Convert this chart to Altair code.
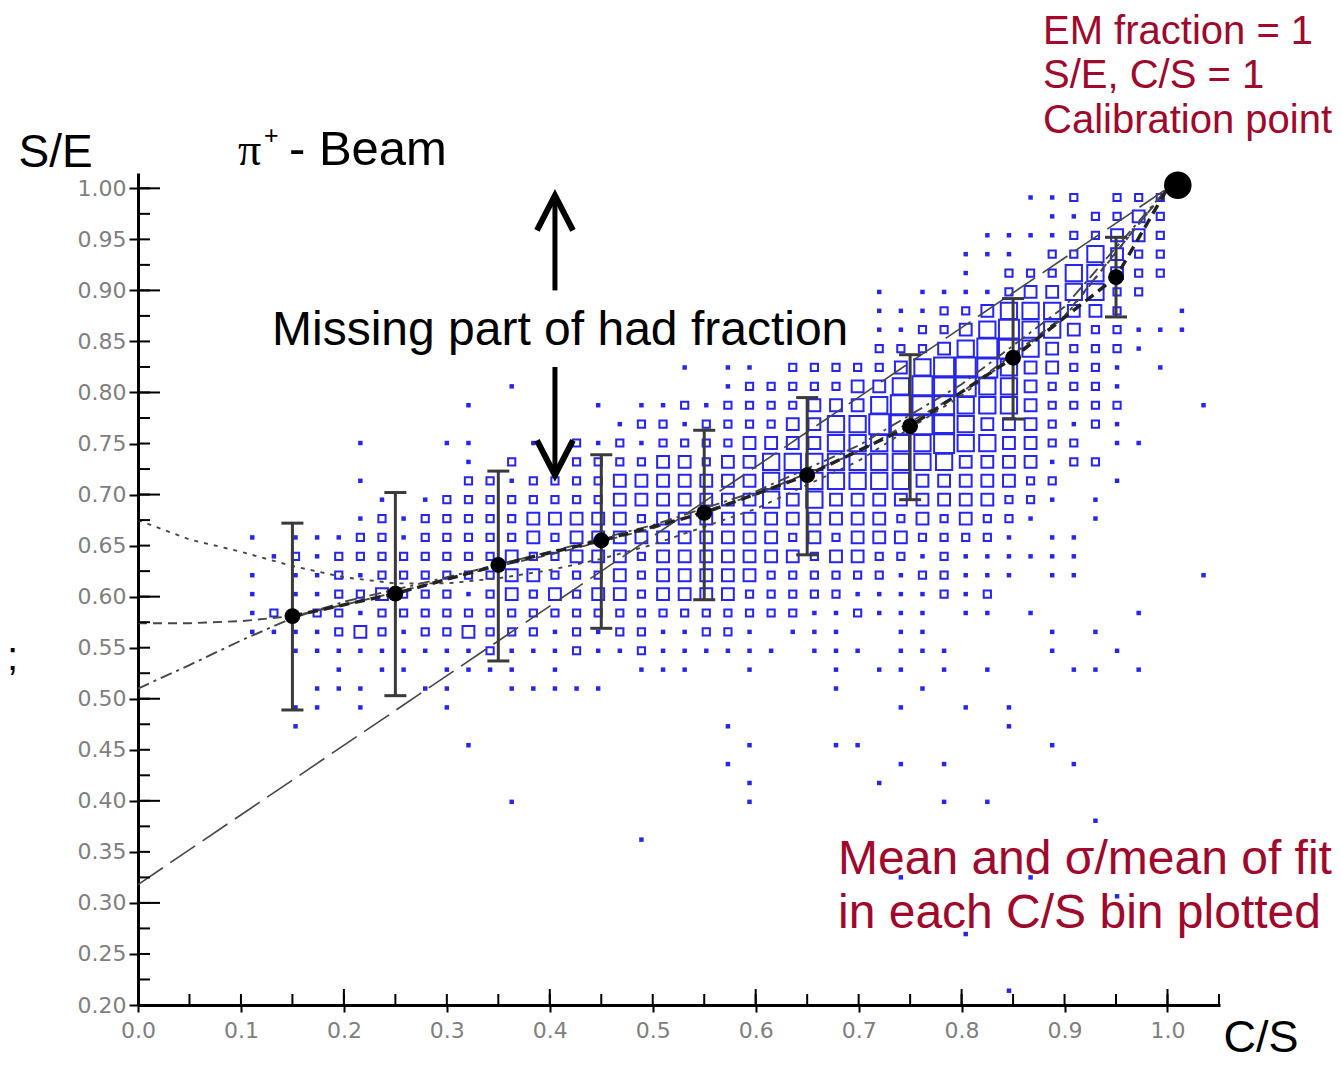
import altair as alt
import pandas as pd

# ---------------- values ----------------
# 2-D histogram (S/E vs C/S): bin centres of the grid and box-size level of each cell
X_BIN0, X_BINW = 0.006, 0.021      # centre of first C/S column, column width
Y_BIN0, Y_BINH = 0.991, 0.0185     # centre of top S/E row, row height

# rows 0..25 from the top: (first column index, size level of consecutive columns)
HIST_ROWS = [
    (40, "01120" "22200"),
    (40, "00112" "23200"),
    (35, "00001" "11122" "33200"),
    (35, "00011" "10224" "32200"),
    (35, "00010" "22244" "32200"),
    (30, "00001" "01111" "23344" "22000"),
    (30, "00001" "11223" "44433" "20010"),
    (30, "00001" "12234" "54432" "21110"),
    (30, "00002" "22345" "54322" "21000"),
    (25, "10110" "22222" "34555" "43322" "10100"),
    (15, "00100" "00000" "00122" "22233" "45554" "43222" "10000"),
    (15, "10000" "01011" "21222" "23334" "55544" "43222" "20001"),
    (20, "00122" "12222" "33445" "55543" "33212" "10000"),
    (10, "10001" "10010" "21212" "22233" "33444" "44544" "33220" "11000"),
    (15, "10200" "22223" "32334" "44444" "44433" "33122"),
    (10, "10000" "22122" "22333" "33334" "44444" "43333" "32200" "10000"),
    (10, "01012" "22222" "22333" "33334" "34333" "33333" "22101"),
    (10, "12122" "22233" "33323" "33333" "33333" "23232" "21001"),
    (5, "10111" "22122" "22232" "33333" "33333" "23233" "32222" "10110"),
    (5, "01212" "22222" "22322" "33323" "33333" "32332" "21211" "11110"),
    (5, "10112" "12222" "22332" "22323" "33332" "22222" "12211" "10110" "00001"),
    (5, "10112" "23222" "12323" "23323" "33322" "22211" "11212"),
    (5, "12022" "12222" "22222" "22222" "22222" "21121" "11011" "01000" "01000"),
    (5, "11112" "32122" "32221" "21221" "12210" "11100" "11000" "00101"),
    (5, "00111" "11111" "12111" "21121" "11111" "01110" "11100" "00100" "10000"),
    (5, "00001" "01101" "11101" "00011" "10010" "00101" "10101" "00011" "01000"),
]
# sparse single-entry cells in the lower rows: row index -> column indices
STRAY_CELLS = {
    26: [8, 9, 10, 13, 14, 17, 18, 19, 20, 21, 32, 36],
    27: [7, 8, 10, 14, 35, 38, 40],
    28: [7, 27, 40],
    29: [15, 28, 32, 33, 42],
    30: [27, 35, 37, 43],
    31: [28, 34],
    32: [17, 28, 37, 39],
    33: [44],
    34: [23],
    36: [35, 41],
    37: [45],
    39: [38],
    42: [40],
}

# fitted mean and sigma band in each C/S bin
BIN_X = [0.15, 0.25, 0.35, 0.45, 0.55, 0.65, 0.75, 0.85, 0.95]
MEAN = [0.581, 0.603, 0.631, 0.655, 0.682, 0.719, 0.767, 0.834, 0.913]
HIGH = [0.672, 0.702, 0.723, 0.739, 0.763, 0.795, 0.837, 0.892, 0.952]
LOW = [0.489, 0.503, 0.537, 0.569, 0.597, 0.641, 0.695, 0.774, 0.874]

# fit curves
DOT_X = [0, .05, .1, .15, .2, .25, .3, .35, .4, .45, .5, .6, .7, .8, .9, 1.0]
DOT_Y = [.675, .656, .644, .630, .619, .613, .613, .618, .626, .637, .651, .686, .733, .797, .874, 1.0]
DASH_X = [0, .05, .1, .15, .2, .25, .3, .35, .4, .5, .6, .7, .8, .9, 1.0]
DASH_Y = [.574, .574, .576, .581, .592, .604, .617, .630, .641, .667, .700, .742, .800, .875, 1.0]
DASHDOT_X = [0, .05, .1, .15, .2, .25, .3, .4, .5, .6, .7, .8, .9, 1.0]
DASHDOT_Y = [.510, .533, .557, .579, .595, .607, .619, .644, .670, .703, .748, .808, .884, 1.0]
LONG_X = [0.0, 1.0]
LONG_Y = [0.318, 1.0]
MEANLINE_X = BIN_X + [1.0]
MEANLINE_Y = MEAN + [1.0]

CALIB_X = [1.01]
CALIB_Y = [1.003]

ARROW_X = 0.405
ARROW_UP = (0.900, 0.993)
ARROW_DOWN = (0.825, 0.719)

X_LABELS = [0.0, 0.1, 0.2, 0.3, 0.4, 0.5, 0.6, 0.7, 0.8, 0.9, 1.0]
Y_LABELS = [0.20, 0.25, 0.30, 0.35, 0.40, 0.45, 0.50, 0.55, 0.60, 0.65,
            0.70, 0.75, 0.80, 0.85, 0.90, 0.95, 1.00]
Y_MINOR = [round(0.2 + 0.025 * i, 3) for i in range(33)]
Y_MAJOR = [0.2, 0.3, 0.4, 0.5, 0.6, 0.7, 0.8, 0.9, 1.0]
X_MINOR = [round(0.05 * i, 2) for i in range(22)]
X_MAJOR = [0.0, 0.2, 0.4, 0.6, 0.8, 1.0]

# box area (px^2) drawn for each level (style)
BOX_AREA = {1: 20, 2: 52, 3: 140, 4: 265, 5: 400}

# ---------------- build tables ----------------
cells = []
for j, (start, run) in enumerate(HIST_ROWS):
    for i, ch in enumerate(run):
        lv = int(ch)
        if lv:
            cells.append({"x": X_BIN0 + X_BINW * (start + i), "y": Y_BIN0 - Y_BINH * j, "level": lv})
for j, ks in STRAY_CELLS.items():
    for k in ks:
        cells.append({"x": X_BIN0 + X_BINW * k, "y": Y_BIN0 - Y_BINH * j, "level": 1})
cells = pd.DataFrame(cells)
cells["area"] = cells["level"].map(BOX_AREA)
boxes = cells[cells.level >= 2]
dots = cells[cells.level == 1]

err = pd.DataFrame({"x": BIN_X, "m": MEAN, "hi": HIGH, "lo": LOW})

W, H = 1082, 832
BLUE = "#2626f0"
GREY = "#3a3a3a"
RED = "#a0082c"

XS = alt.Scale(domain=[0, 1.051], nice=False, zero=False)
YS = alt.Scale(domain=[0.2, 1.015], nice=False, zero=False)
XAX = alt.Axis(values=X_LABELS, format=".1f", title="C/S", grid=False,
               domainColor="black", domainWidth=3, tickColor="black", tickWidth=2,
               tickSize=7, labelFont="DejaVu Sans", labelFontSize=22, labelColor="#7f7f7f",
               labelPadding=8, labelFlush=False,
               titleFont="Liberation Sans", titleFontSize=45, titleFontWeight="normal",
               titleColor="black", titleAlign="left", titleBaseline="alphabetic",
               titleX=1085, titleY=46)
YAX = alt.Axis(values=Y_LABELS, format=".2f", title="S/E", grid=False,
               domainColor="black", domainWidth=3, tickColor="black", tickWidth=2,
               tickSize=9, labelFont="DejaVu Sans", labelFontSize=22, labelColor="#7f7f7f",
               labelPadding=3, labelFlush=False,
               titleFont="Liberation Sans", titleFontSize=46, titleFontWeight="normal",
               titleColor="black", titleAngle=0, titleAlign="left", titleBaseline="alphabetic",
               titleX=-120, titleY=-7)


def X(f):
    return alt.X(f"{f}:Q", scale=XS, axis=XAX)


def Y(f):
    return alt.Y(f"{f}:Q", scale=YS, axis=YAX)


def line(xs, ys, dash, width=1.9, color="#464646"):
    return alt.Chart(pd.DataFrame({"x": xs, "y": ys})).mark_line(
        color=color, strokeWidth=width, strokeDash=dash).encode(x=X("x"), y=Y("y"))


ONE = pd.DataFrame({"o": [0]})


def label(text, px, py, size, color="black", font="Liberation Sans"):
    return alt.Chart(ONE).mark_text(text=text, font=font, fontSize=size, color=color,
                                    align="left", baseline="alphabetic").encode(
        x=alt.value(px), y=alt.value(py))


layers = []
layers.append(alt.Chart(boxes).mark_point(shape="square", filled=False, strokeWidth=2,
                                          color=BLUE, opacity=1).encode(
    x=X("x"), y=Y("y"), size=alt.Size("area:Q", scale=None, legend=None)))
layers.append(alt.Chart(dots).mark_point(shape="square", filled=True,
                                         color=BLUE, opacity=1).encode(
    x=X("x"), y=Y("y"), size=alt.Size("area:Q", scale=None, legend=None)))

layers.append(line(LONG_X, LONG_Y, [30, 9], width=1.6))
layers.append(line(DOT_X, DOT_Y, [4, 6]))
layers.append(line(DASH_X, DASH_Y, [9, 6]))
layers.append(line(DASHDOT_X, DASHDOT_Y, [12, 5, 3, 5]))
layers.append(line(MEANLINE_X, MEANLINE_Y, [10, 6], width=3.4, color="#222222"))

layers.append(alt.Chart(err).mark_rule(color=GREY, strokeWidth=3).encode(
    x=X("x"), y=Y("lo"), y2=alt.Y2("hi")))
layers.append(alt.Chart(err).mark_tick(orient="horizontal", thickness=3, size=22, color=GREY,
                                       opacity=1).encode(x=X("x"), y=Y("hi")))
layers.append(alt.Chart(err).mark_tick(orient="horizontal", thickness=3, size=22, color=GREY,
                                       opacity=1).encode(x=X("x"), y=Y("lo")))
layers.append(alt.Chart(err).mark_point(shape="circle", filled=True, size=250, color="black",
                                        opacity=1).encode(x=X("x"), y=Y("m")))

layers.append(alt.Chart(pd.DataFrame({"x": CALIB_X, "y": CALIB_Y})).mark_point(
    shape="circle", filled=True, size=760, color="black", opacity=1).encode(x=X("x"), y=Y("y")))

# inner ticks of the axes
layers.append(alt.Chart(pd.DataFrame({"v": Y_MINOR})).mark_rule(color="black", strokeWidth=2).encode(
    y=Y("v"), x=alt.value(0), x2=alt.value(12)))
layers.append(alt.Chart(pd.DataFrame({"v": Y_MAJOR})).mark_rule(color="black", strokeWidth=2).encode(
    y=Y("v"), x=alt.value(0), x2=alt.value(22)))
layers.append(alt.Chart(pd.DataFrame({"v": X_MINOR})).mark_rule(color="black", strokeWidth=2).encode(
    x=X("v"), y=alt.value(H), y2=alt.value(H - 11)))
layers.append(alt.Chart(pd.DataFrame({"v": X_MAJOR})).mark_rule(color="black", strokeWidth=2).encode(
    x=X("v"), y=alt.value(H), y2=alt.value(H - 16)))

# arrows
arrows = pd.DataFrame({"x": [ARROW_X, ARROW_X], "a": [ARROW_UP[0], ARROW_DOWN[0]],
                       "b": [ARROW_UP[1], ARROW_DOWN[1]]})
layers.append(alt.Chart(arrows).mark_rule(color="black", strokeWidth=5).encode(
    x=X("x"), y=Y("a"), y2=alt.Y2("b")))
layers.append(alt.Chart(pd.DataFrame({"x": [ARROW_X], "y": [ARROW_UP[1]]})).mark_point(
    shape="M-1,1.94L0,0L1,1.94", filled=False, size=1296, strokeWidth=6, color="black",
    opacity=1, strokeJoin="miter").encode(x=X("x"), y=Y("y")))
layers.append(alt.Chart(pd.DataFrame({"x": [ARROW_X], "y": [ARROW_DOWN[1]]})).mark_point(
    shape="M-1,-1.94L0,0L1,-1.94", filled=False, size=1296, strokeWidth=6, color="black",
    opacity=1, strokeJoin="miter").encode(x=X("x"), y=Y("y")))

# texts
layers.append(label("π", 100, -8, 46, font="Liberation Serif"))
layers.append(label("+", 126, -29, 25))
layers.append(label("- Beam", 151, -8, 49))
layers.append(label("Missing part of had fraction", 134, 172, 48))
layers.append(label("EM fraction = 1", 905, -129, 40, RED))
layers.append(label("S/E, C/S = 1", 905, -85, 40, RED))
layers.append(label("Calibration point", 905, -40, 40, RED))
layers.append(label("Mean and σ/mean of fit", 700, 701, 48, RED))
layers.append(label("in each C/S bin plotted", 700, 755, 48, RED))
layers.append(label(";", -131, 497, 40))

chart = alt.layer(*layers).properties(
    width=W, height=H,
    padding={"left": 130, "top": 165, "right": 114, "bottom": 55},
    autosize=alt.AutoSizeParams(type="none"),
    background="white",
).configure_view(stroke=None)

chart.save("out.html", embed_options={"renderer": "svg", "actions": False})
